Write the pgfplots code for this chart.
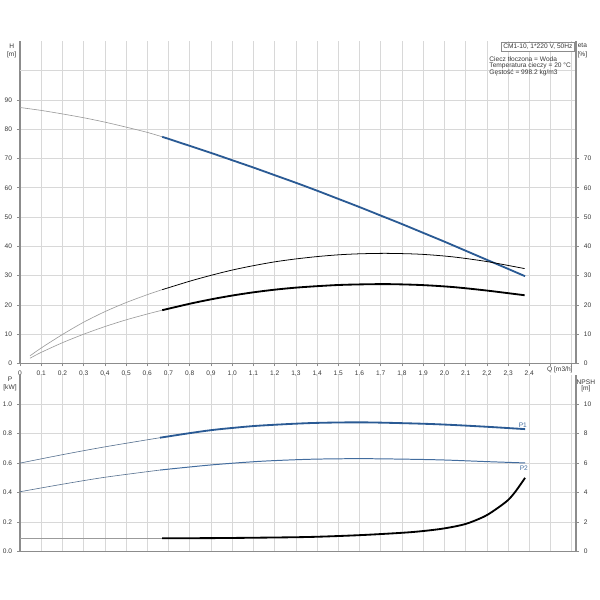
\documentclass[border=0pt]{standalone}
\usepackage{fontspec}
\setmainfont{Liberation Sans}
\usepackage{pgfplots}
\pgfplotsset{compat=1.18}
\definecolor{hblue}{RGB}{42,90,148}
\definecolor{pblue}{RGB}{66,108,158}
\definecolor{thinc}{RGB}{155,155,155}
\definecolor{gridc}{RGB}{216,216,216}
\definecolor{axc}{RGB}{140,140,140}
\definecolor{txt}{RGB}{55,55,55}
\newcommand\sm{\fontsize{4.7}{5.2}\selectfont}
\pgfplotsset{
  base/.style={
    scale only axis, width=13.9cm, xmin=0, xmax=2.62,
    axis line style={axc, line width=1pt},
    tick style={axc, line width=0.5pt},
    tick align=outside, major tick length=0.075cm,
    tick label style={font=\sm, text=txt},
    /pgf/number format/assume math mode=true,
    xtick={0,0.1,0.2,0.3,0.4,0.5,0.6,0.7,0.8,0.9,1.0,1.1,1.2,1.3,1.4,1.5,1.6,1.7,1.8,1.9,2.0,2.1,2.2,2.3,2.4,2.5,2.6},
    clip=false,
  },
  gridded/.style={grid=major, major grid style={gridc, line width=0.5pt}},
  thinline/.style={thinc, line width=0.45pt, smooth},
}
\begin{document}
\begin{tikzpicture}
\path[use as bounding box] (0,0) rectangle (15cm,15cm);
% ---------------- top: H and eta ----------------
\begin{axis}[base, gridded, at={(0.5cm,5.9125cm)}, anchor=south west, height=8.055cm,
  ymin=0, ymax=110, axis x line*=bottom, axis y line*=left,
  ytick={0,10,20,30,40,50,60,70,80,90},
  yticklabels={0,10,20,30,40,50,60,70,80,90},
  extra y ticks={100}, extra y tick labels={},
  extra y tick style={tick style={draw=none}},
  xticklabels={0,{0,1},{0,2},{0,3},{0,4},{0,5},{0,6},{0,7},{0,8},{0,9},{1,0},{1,1},{1,2},{1,3},{1,4},{1,5},{1,6},{1,7},{1,8},{1,9},{2,0},{2,1},{2,2},{2,3},{2,4},{},{}},
  xticklabel style={yshift=0.02cm}]
\addplot[thinline] coordinates {(0,87.4)(0.1,86.4)(0.2,85.2)(0.3,83.9)(0.4,82.4)(0.5,80.7)(0.6,78.9)(0.67,77.4)};
\addplot[hblue, line width=1.3pt, smooth] coordinates {(0.67,77.4)(0.8,74.3)(0.9,71.9)(1.0,69.4)(1.1,66.9)(1.2,64.3)(1.3,61.7)(1.4,59.0)(1.5,56.2)(1.6,53.4)(1.7,50.5)(1.8,47.6)(1.9,44.6)(2.0,41.6)(2.1,38.5)(2.2,35.4)(2.3,32.3)(2.38,29.8)};
\end{axis}
\begin{axis}[base, at={(0.5cm,5.9125cm)}, anchor=south west, height=8.055cm,
  ymin=0, ymax=110, axis x line=none, axis y line*=right,
  ytick={0,10,20,30,40,50,60,70},
  yticklabels={0,10,20,30,40,50,60,70}]
\addplot[thinline] coordinates {(0.047,2.6)(0.1,5.3)(0.2,9.9)(0.3,14.1)(0.4,17.7)(0.5,20.8)(0.6,23.5)(0.67,25.2)};
\addplot[black, line width=0.55pt, smooth] coordinates {(0.67,25.2)(0.8,28.1)(0.9,30.1)(1.0,31.9)(1.1,33.4)(1.2,34.7)(1.3,35.7)(1.4,36.5)(1.5,37.1)(1.6,37.45)(1.73,37.6)(1.887,37.3)(2.04,36.4)(2.2,34.8)(2.378,32.4)};
\addplot[thinline] coordinates {(0.047,1.8)(0.1,3.8)(0.2,7.1)(0.3,10.0)(0.4,12.6)(0.5,14.9)(0.6,16.9)(0.67,18.2)};
\addplot[black, line width=1.3pt, smooth] coordinates {(0.67,18.2)(0.8,20.4)(0.9,21.9)(1.0,23.2)(1.1,24.3)(1.2,25.2)(1.3,25.9)(1.4,26.4)(1.5,26.8)(1.6,27.0)(1.73,27.1)(1.887,26.8)(2.04,26.1)(2.2,24.9)(2.378,23.3)};
\end{axis}
% ---------------- bottom: P and NPSH ----------------
\begin{axis}[base, gridded, at={(0.5cm,1.2075cm)}, anchor=south west, height=4.43cm,
  ymin=0, ymax=1.2, axis x line*=bottom, axis y line*=left,
  xticklabels={}, xtick style={draw=none},
  ytick={0,0.2,0.4,0.6,0.8,1.0},
  yticklabels={0.0,0.2,0.4,0.6,0.8,1.0}]
\addplot[pblue!60!gray, line width=0.45pt, smooth] coordinates {(0,0.600)(0.2,0.657)(0.4,0.710)(0.66,0.772)};
\addplot[hblue, line width=1.3pt, smooth] coordinates {(0.66,0.772)(0.8,0.803)(0.9,0.823)(1.0,0.838)(1.132,0.854)(1.368,0.871)(1.604,0.876)(1.84,0.869)(2.0,0.861)(2.2,0.846)(2.38,0.83)};
\addplot[pblue!60!gray, line width=0.45pt, smooth] coordinates {(0,0.406)(0.2,0.457)(0.4,0.504)(0.66,0.553)};
\addplot[pblue, line width=0.7pt, smooth] coordinates {(0.66,0.553)(0.896,0.587)(1.132,0.612)(1.368,0.626)(1.604,0.630)(1.84,0.626)(2.0,0.621)(2.2,0.610)(2.38,0.601)};
\end{axis}
\begin{axis}[base, at={(0.5cm,1.2075cm)}, anchor=south west, height=4.43cm,
  ymin=0, ymax=12, axis x line=none, axis y line*=right,
  ytick={0,2,4,6,8,10}, yticklabels={0,2,4,6,8,10}]
\addplot[thinline] coordinates {(0,0.91)(0.3,0.91)(0.67,0.91)};
\addplot[black, line width=1.3pt, smooth] coordinates {(0.67,0.91)(0.9,0.92)(1.13,0.95)(1.37,1.0)(1.6,1.12)(1.8,1.28)(1.9,1.40)(2.0,1.58)(2.1,1.88)(2.19,2.4)(2.25,2.95)(2.3,3.5)(2.335,4.08)(2.38,5.0)};
\end{axis}
% ---------------- texts ----------------
\begin{scope}[x=0.025cm,y=0.025cm, every node/.style={font=\sm, text=txt, inner sep=0pt}]
\node at (11.7,554.3) {H};
\node at (11.7,545.7) {[m]};
\node at (582.5,554.3) {eta};
\node at (582.5,545.3) {[\%]};
\node at (10,221) {P};
\node at (10,212.7) {[kW]};
\node at (586,217.7) {NPSH};
\node at (586,211.7) {[m]};
\node at (560,230.7) {Q [m3/h]};
\node[text=pblue] at (523,175) {P1};
\node[text=pblue] at (524,132) {P2};
\draw[axc, fill=white, line width=0.4pt] (501.7,558.3) rectangle (574.3,549.3);
\node at (538,553.8) {CM1-10, 1*220 V, 50Hz};
\node[anchor=west] at (489.3,540.7) {Ciecz tłoczona = Woda};
\node[anchor=west] at (489.3,534.2) {Temperatura cieczy = 20 °C};
\node[anchor=west] at (489.3,527.7) {Gęstość = 998.2 kg/m3};
\end{scope}
\end{tikzpicture}
\end{document}
